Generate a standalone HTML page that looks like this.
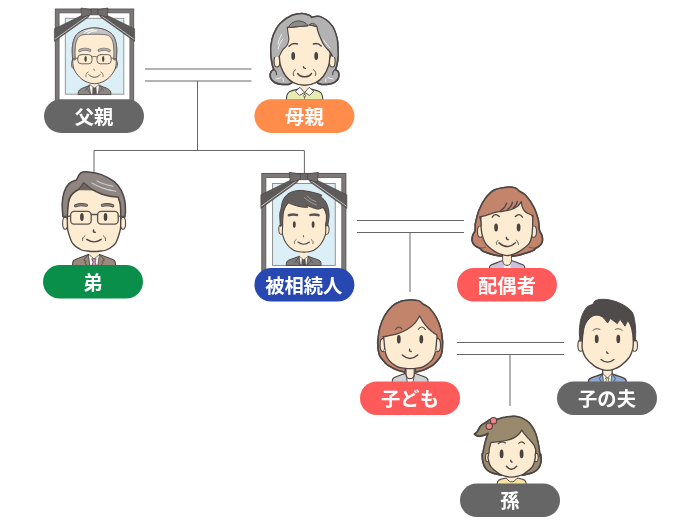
<!DOCTYPE html>
<html lang="ja">
<head>
<meta charset="utf-8">
<title>相続関係図</title>
<style>
html,body{margin:0;padding:0;background:#fff;}
body{width:700px;height:525px;overflow:hidden;position:relative;font-family:"Liberation Sans","Noto Sans CJK JP",sans-serif;}
svg{position:absolute;left:0;top:0;display:block;will-change:transform;}
.lbl{font-family:"Liberation Sans","Noto Sans CJK JP",sans-serif;font-weight:700;font-size:19.3px;fill:#fff;text-anchor:middle;}
</style>
</head>
<body>
<svg width="700" height="525" viewBox="0 0 700 525">
<!-- connector lines -->
<g id="lines" fill="none" stroke="#666" stroke-width="1">
  <path d="M145 69H251.5M145 81H251.5"/>
  <path d="M197.5 81V150.5"/>
  <path d="M94 172V150.5H304.4V174"/>
  <path d="M357 220.5H464M357 232.5H464"/>
  <path d="M410 232.5V292"/>
  <path d="M457 342.5H564M457 354.5H564"/>
  <path d="M510 354.5V406"/>
</g>
<!-- PERSONS -->
<defs>
  <linearGradient id="fhair" x1="0" y1="0" x2="0" y2="1"><stop offset="0" stop-color="#cbcbcb"/><stop offset="0.35" stop-color="#b4b4b4"/><stop offset="1" stop-color="#a6a6a6"/></linearGradient>
  <g id="frame">
    <!-- coordinates local to father frame -->
    <rect x="55.3" y="9" width="78.4" height="93" fill="#7d7979" stroke="#585454" stroke-width="0.9"/>
    <rect x="59.1" y="12.9" width="70.8" height="88" fill="#fff" stroke="#585454" stroke-width="0.7"/>
    <rect x="65.3" y="18.3" width="58.5" height="75.9" fill="#dceef6" stroke="#8d8d8d" stroke-width="0.9"/>
  </g>
  <g id="ribbon">
    <!-- left band -->
    <path d="M83 14.8 L54.4 28.8 L54.4 41.4 L88.6 17 L90 14 Z" fill="#5f5a5a" stroke="#4c4848" stroke-width="0.6" stroke-linejoin="round"/>
    <path d="M54.8 39.3 L87.6 15.9" stroke="#ececec" stroke-width="0.65" fill="none"/>
    <!-- right band -->
    <path d="M106 14.8 L134.6 28.8 L134.6 41.4 L100.4 17 L99 14 Z" fill="#5f5a5a" stroke="#4c4848" stroke-width="0.6" stroke-linejoin="round"/>
    <path d="M134.2 39.3 L101.4 15.9" stroke="#ececec" stroke-width="0.65" fill="none"/>
    <!-- bow -->
    <path d="M91.2 9.6 L81 8 L81.9 17.4 L91.2 14.6 Z" fill="#716c6c" stroke="#454141" stroke-width="0.7" stroke-linejoin="round"/>
    <path d="M97.8 9.6 L108 8 L107.1 17.4 L97.8 14.6 Z" fill="#716c6c" stroke="#454141" stroke-width="0.7" stroke-linejoin="round"/>
    <rect x="91.2" y="9" width="6.6" height="5.9" fill="#6e6969" stroke="#4c4848" stroke-width="0.6"/>
  </g>
</defs>
<g id="father">
  <use href="#frame"/>
  <g stroke="#5a5350" stroke-width="1" stroke-linejoin="round" stroke-linecap="round">
    <!-- suit -->
    <path d="M78 94.2 C78 90.5 80 89 84 87.6 L90.5 85 L98.5 85 L105 87.6 C109 89 111 90.5 111 94.2 Z" fill="#8b8787"/>
    <path d="M89.6 85 L99.4 85 L98.2 94.2 L90.8 94.2 Z" fill="#fff" stroke-width="0.6"/>
    <path d="M93 87 L96 87 L96.6 94.2 L92.4 94.2 Z" fill="#5c5757" stroke-width="0.5"/>
    <path d="M89.6 85 L87 88.4 L90.8 94.2 M99.4 85 L102 88.4 L98.2 94.2 M87 88.4 L85.4 90.6 M102 88.4 L103.6 90.6" fill="none" stroke-width="0.7"/>
    <!-- neck -->
    <path d="M90.3 80 L90.3 85 L94.5 88 L98.7 85 L98.7 80 Z" fill="#fdecd2" stroke="none"/>
    <path d="M90.3 85 L94.5 88 L98.7 85" fill="none" stroke-width="0.6"/>
    <!-- ears -->
    <ellipse cx="74" cy="64" rx="2.3" ry="4.8" fill="#fdecd2"/>
    <ellipse cx="115" cy="64" rx="2.3" ry="4.8" fill="#fdecd2"/>
    <!-- head -->
    <path d="M72.6 60C72.77 61.33 72.7 65.43 73.6 68C74.5 70.57 76.1 73.2 78 75.4C79.9 77.6 82.25 79.82 85 81.2C87.75 82.58 91.33 83.7 94.5 83.7C97.67 83.7 101.25 82.58 104 81.2C106.75 79.82 109.1 77.6 111 75.4C112.9 73.2 114.5 70.57 115.4 68C116.3 65.43 116.23 61.33 116.4 60C116.45 58 116.9 51.33 116.7 48C116.5 44.67 115.87 42.17 115.2 40C114.53 37.83 113.73 36.35 112.7 35C111.67 33.65 110.28 32.77 109 31.9C107.72 31.03 106.5 30.38 105 29.8C103.5 29.22 101.75 28.72 100 28.4C98.25 28.08 96.33 27.9 94.5 27.9C92.67 27.9 90.75 28.08 89 28.4C87.25 28.72 85.5 29.22 84 29.8C82.5 30.38 81.28 31.03 80 31.9C78.72 32.77 77.33 33.65 76.3 35C75.27 36.35 74.47 37.83 73.8 40C73.13 42.17 72.5 44.67 72.3 48C72.1 51.33 72.55 58 72.6 60Z" fill="#fdecd2"/>
    <!-- hair band -->
    <path d="M116.4 60C116.45 58 116.9 51.33 116.7 48C116.5 44.67 115.87 42.17 115.2 40C114.53 37.83 113.73 36.35 112.7 35C111.67 33.65 110.28 32.77 109 31.9C107.72 31.03 106.5 30.38 105 29.8C103.5 29.22 101.75 28.72 100 28.4C98.25 28.08 96.33 27.9 94.5 27.9C92.67 27.9 90.75 28.08 89 28.4C87.25 28.72 85.5 29.22 84 29.8C82.5 30.38 81.28 31.03 80 31.9C78.72 32.77 77.33 33.65 76.3 35C75.27 36.35 74.47 37.83 73.8 40C73.13 42.17 72.5 44.67 72.3 48C72.1 51.33 72.55 58 72.6 60C73.05 60 74.85 60 75.3 60C75.27 58.33 74.98 52.92 75.1 50C75.22 47.08 75.45 44.6 76 42.5C76.55 40.4 77.23 38.68 78.4 37.4C79.57 36.12 80.32 35.32 83 34.8C85.68 34.28 90.67 34.3 94.5 34.3C98.33 34.3 103.32 34.28 106 34.8C108.68 35.32 109.43 36.12 110.6 37.4C111.77 38.68 112.45 40.4 113 42.5C113.55 44.6 113.78 47.08 113.9 50C114.02 52.92 113.73 58.33 113.7 60C114.15 60 115.95 60 116.4 60Z" fill="url(#fhair)" stroke-width="0.8"/>
    <path d="M84.6 32.6 C87 30.4 90 29.6 93.4 29.4 M87.6 33.6 C90 31.6 93 30.8 96.6 30.6" fill="none" stroke="#f3f3f3" stroke-width="1.1"/>
    <!-- brows -->
    <path d="M79.8 50.7 C82 48.7 87 48.7 89.8 50.2" fill="none" stroke="#77706c" stroke-width="3"/><path d="M79.8 50.7 C82 48.7 87 48.7 89.8 50.2" fill="none" stroke="#adadad" stroke-width="1.6"/>
    <path d="M109.2 50.7 C107 48.7 102 48.7 99.2 50.2" fill="none" stroke="#77706c" stroke-width="3"/><path d="M109.2 50.7 C107 48.7 102 48.7 99.2 50.2" fill="none" stroke="#adadad" stroke-width="1.6"/>
    <!-- eyes -->
    <ellipse cx="85.6" cy="59" rx="1.2" ry="3" fill="#4a4340" stroke="none"/>
    <ellipse cx="103.2" cy="59" rx="1.2" ry="3" fill="#4a4340" stroke="none"/>
    <!-- glasses -->
    <g fill="none" stroke="#6d6661" stroke-width="1">
      <rect x="77.8" y="54.6" width="14.2" height="9.2" rx="3.4"/>
      <rect x="97" y="54.6" width="14.2" height="9.2" rx="3.4"/>
      <path d="M92 57 C93.5 56.2 95.5 56.2 97 57 M77.8 58 L73 58.6 M111.2 58 L116 58.6"/>
    </g>
    <!-- nose, mouth -->
    <path d="M93.8 69.2 L94.4 70.2" fill="none" stroke-width="0.9"/>
    <path d="M88.8 74.6 C91.5 78.2 97.5 78.2 100.2 74.6" fill="none" stroke-width="1"/>
    <path d="M88.2 72 C86 73 85.4 75 86 76.8 M100.8 72 C103 73 103.6 75 103 76.8" fill="none" stroke-width="0.7"/>
  </g>
  <use href="#ribbon"/>
</g>
<g id="mother">
<path d="M286.4 100 C286.4 93.5 288 91.6 293 90.4 L300 88.6 L309 88.6 L316 90.4 C321 91.6 322.8 93.5 322.8 100 Z" fill="#e7edb2" stroke="#4d4644" stroke-width="1.1" stroke-linejoin="round" stroke-linecap="round"/>
<path d="M300.4 82 L300.4 89 L304.6 92.5 L308.8 89 L308.8 82 Z" fill="#fdecd2" stroke="none" stroke-width="1.1" stroke-linejoin="round" stroke-linecap="round"/>
<path d="M300.2 87.6 L304.5 92.4 L299.6 95.4 L295.8 91.6 Z" fill="#fff" stroke="#4d4644" stroke-width="0.9" stroke-linejoin="round" stroke-linecap="round"/>
<path d="M309 87.6 L304.7 92.4 L309.6 95.4 L313.4 91.6 Z" fill="#fff" stroke="#4d4644" stroke-width="0.9" stroke-linejoin="round" stroke-linecap="round"/>
<circle cx="304.6" cy="95.6" r="1.1" fill="#fff" stroke="#4d4644" stroke-width="0.7"/>
<path d="M304.6 92.6 L304.6 94.4 M304.6 96.8 L304.6 100" fill="none" stroke="#4d4644" stroke-width="0.7" stroke-linejoin="round" stroke-linecap="round"/>
<path d="M311.6 17.4C313.07 17.27 317 15.23 320.4 16.6C323.8 17.97 329.22 21.97 332 25.6C334.78 29.23 336.1 34.33 337.1 38.4C338.1 42.47 337.83 46.88 338 50C338.17 53.12 338.25 54.72 338.1 57.1C337.95 59.48 337.53 62.23 337.1 64.3C336.67 66.37 335.77 68.63 335.5 69.5C335.92 69.82 337.43 70.55 338 71.4C338.57 72.25 338.87 73.4 338.9 74.6C338.93 75.8 338.92 77.32 338.2 78.6C337.48 79.88 336.28 81.37 334.6 82.3C332.92 83.23 330.25 83.85 328.1 84.2C325.95 84.55 323.38 84.57 321.7 84.4C320.02 84.23 318.62 83.4 318 83.2C315.73 81 308.82 70 304.4 70C299.98 70 293.65 81 291.5 83.2C290.97 83.4 289.9 84.2 288.3 84.4C286.7 84.6 284.17 84.72 281.9 84.4C279.63 84.08 276.55 83.47 274.7 82.5C272.85 81.53 271.55 79.97 270.8 78.6C270.05 77.23 270.1 75.5 270.2 74.3C270.3 73.1 270.82 72.22 271.4 71.4C271.98 70.58 273.32 69.73 273.7 69.4C273.45 68.55 272.63 66.35 272.2 64.3C271.77 62.25 271.32 60.13 271.1 57.1C270.88 54.07 270.5 49.85 270.9 46.1C271.3 42.35 271.88 38.45 273.5 34.6C275.12 30.75 277.5 26.22 280.6 23C283.7 19.78 288.47 16.9 292.1 15.3C295.73 13.7 299.5 13.38 302.4 13.4C305.3 13.42 307.97 14.73 309.5 15.4C311.03 16.07 311.25 17.07 311.6 17.4Z" fill="#b2b2b2" stroke="#4d4644" stroke-width="1.5" stroke-linejoin="round" stroke-linecap="round"/>
<ellipse cx="277" cy="61.2" rx="2.9" ry="5.8" fill="#fdecd2" stroke="#4d4644" stroke-width="1.1"/>
<ellipse cx="332.2" cy="61.2" rx="2.9" ry="5.8" fill="#fdecd2" stroke="#4d4644" stroke-width="1.1"/>
<path d="M279.3 50C278.53 54.5 279.18 54.38 279.4 57C279.62 59.62 279.55 62.53 280.6 65.7C281.65 68.87 283.57 73.18 285.7 76C287.83 78.82 290.25 81.07 293.4 82.6C296.55 84.13 300.87 85.2 304.6 85.2C308.33 85.2 312.65 84.13 315.8 82.6C318.95 81.07 321.37 78.82 323.5 76C325.63 73.18 327.55 68.87 328.6 65.7C329.65 62.53 329.58 59.62 329.8 57C330.02 54.38 330.7 54.5 329.9 50C329.1 45.5 329.22 34.33 325 30C320.78 25.67 311.43 24 304.6 24C297.77 24 288.22 25.67 284 30C279.78 34.33 280.07 45.5 279.3 50Z" fill="#fdecd2" stroke="#4d4644" stroke-width="1.35" stroke-linejoin="round" stroke-linecap="round"/>
<path d="M288.5 27.2 C292 19.5 303 18.6 308 25.4 Z" fill="#8b8b8b" stroke="#4d4644" stroke-width="0.9" stroke-linejoin="round" stroke-linecap="round"/>
<path d="M309.6 24.6 C311.5 22.6 315.2 22.8 316.6 26.2 Z" fill="#8b8b8b" stroke="#4d4644" stroke-width="0.9" stroke-linejoin="round" stroke-linecap="round"/>
<path d="M271.1 57.1C271.07 55.27 270.5 49.85 270.9 46.1C271.3 42.35 271.88 38.45 273.5 34.6C275.12 30.75 277.5 26.22 280.6 23C283.7 19.78 288.47 16.9 292.1 15.3C295.73 13.7 299.5 13.38 302.4 13.4C305.3 13.42 307.97 14.73 309.5 15.4C311.03 16.07 311.25 17.07 311.6 17.4C313.07 17.27 317 15.23 320.4 16.6C323.8 17.97 329.22 21.97 332 25.6C334.78 29.23 336.1 34.33 337.1 38.4C338.1 42.47 337.83 46.88 338 50C338.17 53.12 339.03 56.07 338.1 57.1C337.17 58.13 333.35 56.35 332.4 56.2C332 55.5 331.35 53.78 330 52C328.65 50.22 325.9 47.87 324.3 45.5C322.7 43.13 321.48 40.27 320.4 37.8C319.32 35.33 318.4 32.6 317.8 30.7C317.2 28.8 316.97 27.12 316.8 26.4C315.57 26.13 310.63 25.07 309.4 24.8C309.17 24.9 308.23 25.3 308 25.4C304.73 25.72 291.67 26.98 288.4 27.3C288.22 27.32 287.48 27.38 287.3 27.4C287.43 28.45 287.85 31.65 288.1 33.7C288.35 35.75 289 37.73 288.8 39.7C288.6 41.67 287.93 43.78 286.9 45.5C285.87 47.22 283.87 48.18 282.6 50C281.33 51.82 279.85 55.33 279.3 56.4C277.93 56.52 272.47 56.98 271.1 57.1Z" fill="#b2b2b2" stroke="none" stroke-width="1.1" stroke-linejoin="round" stroke-linecap="round"/>
<path d="M332.4 56.2C332 55.5 331.35 53.78 330 52C328.65 50.22 325.9 47.87 324.3 45.5C322.7 43.13 321.48 40.27 320.4 37.8C319.32 35.33 318.4 32.6 317.8 30.7C317.2 28.8 316.97 27.12 316.8 26.4" fill="none" stroke="#4d4644" stroke-width="1.25" stroke-linejoin="round" stroke-linecap="round"/>
<path d="M316.8 26.4C315.57 26.13 310.63 25.07 309.4 24.8" fill="none" stroke="#4d4644" stroke-width="1.0" stroke-linejoin="round" stroke-linecap="round"/>
<path d="M308 25.4C304.73 25.72 291.67 26.98 288.4 27.3C288.22 27.32 287.48 27.38 287.3 27.4C287.43 28.45 287.85 31.65 288.1 33.7C288.35 35.75 289 37.73 288.8 39.7C288.6 41.67 287.93 43.78 286.9 45.5C285.87 47.22 283.87 48.18 282.6 50C281.33 51.82 279.85 55.33 279.3 56.4" fill="none" stroke="#4d4644" stroke-width="1.1" stroke-linejoin="round" stroke-linecap="round"/>
<path d="M291.5 83.2C290.97 83.4 289.9 84.2 288.3 84.4C286.7 84.6 284.17 84.72 281.9 84.4C279.63 84.08 276.55 83.47 274.7 82.5C272.85 81.53 271.55 79.97 270.8 78.6C270.05 77.23 270.1 75.5 270.2 74.3C270.3 73.1 270.82 72.22 271.4 71.4C271.98 70.58 273.32 69.73 273.7 69.4C273.45 68.55 272.63 66.35 272.2 64.3C271.77 62.25 271.32 60.13 271.1 57.1C270.88 54.07 270.5 49.85 270.9 46.1C271.3 42.35 271.88 38.45 273.5 34.6C275.12 30.75 277.5 26.22 280.6 23C283.7 19.78 288.47 16.9 292.1 15.3C295.73 13.7 299.5 13.38 302.4 13.4C305.3 13.42 307.97 14.73 309.5 15.4C311.03 16.07 311.25 17.07 311.6 17.4C313.07 17.27 317 15.23 320.4 16.6C323.8 17.97 329.22 21.97 332 25.6C334.78 29.23 336.1 34.33 337.1 38.4C338.1 42.47 337.83 46.88 338 50C338.17 53.12 338.25 54.72 338.1 57.1C337.95 59.48 337.53 62.23 337.1 64.3C336.67 66.37 335.77 68.63 335.5 69.5C335.92 69.82 337.43 70.55 338 71.4C338.57 72.25 338.87 73.4 338.9 74.6C338.93 75.8 338.92 77.32 338.2 78.6C337.48 79.88 336.28 81.37 334.6 82.3C332.92 83.23 330.25 83.85 328.1 84.2C325.95 84.55 323.38 84.57 321.7 84.4C320.02 84.23 318.62 83.4 318 83.2" fill="none" stroke="#4d4644" stroke-width="1.5" stroke-linejoin="round" stroke-linecap="round"/>
<path d="M288.5 27.2 C292 19.5 303 18.6 308 25.4 Z" fill="#8b8b8b" stroke="#4d4644" stroke-width="0.9" stroke-linejoin="round" stroke-linecap="round"/>
<path d="M309.6 24.6 C311.5 22.6 315.2 22.8 316.6 26.2 Z" fill="#8b8b8b" stroke="#4d4644" stroke-width="0.9" stroke-linejoin="round" stroke-linecap="round"/>
<path d="M273.7 69.4 C275.6 70.4 276.8 72 276.4 74.6 M335.5 69.5 C333.6 70.5 332.4 72.1 332.8 74.7" fill="none" stroke="#4d4644" stroke-width="1.1" stroke-linejoin="round" stroke-linecap="round"/>
<path d="M281.6 34.4 C279.6 38 278.6 41 278 44 M282.8 39 C280.4 42.4 279 45.4 278 49" fill="none" stroke="#f2f2f2" stroke-width="1.0" stroke-linejoin="round" stroke-linecap="round"/>
<path d="M323.6 40 C325.6 43.4 327.6 45.6 330 48" fill="none" stroke="#f2f2f2" stroke-width="1.0" stroke-linejoin="round" stroke-linecap="round"/>
<path d="M276 79 C278 78.8 280 78 281.2 77.4 M283 78.6 C283.6 79.8 283.6 80.6 283.2 81.6" fill="none" stroke="#f2f2f2" stroke-width="1.0" stroke-linejoin="round" stroke-linecap="round"/>
<path d="M333 79 C331 78.8 329 78 327.8 77.4 M326 78.6 C325.4 79.8 325.4 80.6 325.8 81.6" fill="none" stroke="#f2f2f2" stroke-width="1.0" stroke-linejoin="round" stroke-linecap="round"/>
<path d="M289 46.2 C291.6 43.4 294.6 43 297.4 44" fill="none" stroke="#4d4644" stroke-width="1.4" stroke-linejoin="round" stroke-linecap="round"/>
<path d="M313.4 44 C316.4 43 319 43.6 321.2 46" fill="none" stroke="#4d4644" stroke-width="1.4" stroke-linejoin="round" stroke-linecap="round"/>
<ellipse cx="293.2" cy="56" rx="1.9" ry="4" fill="#4a4340"/>
<ellipse cx="316.2" cy="56" rx="1.9" ry="4" fill="#4a4340"/>
<path d="M303.4 66.6 C303.6 67.8 304.4 68.4 305.4 68.4" fill="none" stroke="#4d4644" stroke-width="1.4" stroke-linejoin="round" stroke-linecap="round"/>
<path d="M297.6 73.5 C300.6 77.9 308.6 77.9 311.6 73.5" fill="none" stroke="#4d4644" stroke-width="1.4" stroke-linejoin="round" stroke-linecap="round"/>
<path d="M295.6 69.6 C293.4 71 292.6 73.4 293.6 75.6" fill="none" stroke="#4d4644" stroke-width="0.9" stroke-linejoin="round" stroke-linecap="round"/>
<path d="M313.4 69.6 C315.6 71 316.4 73.4 315.4 75.6" fill="none" stroke="#4d4644" stroke-width="0.9" stroke-linejoin="round" stroke-linecap="round"/>
</g>
<g id="brother">
<path d="M72.5 265.43C72.71 264.61 72.07 262 73.79 260.54C75.5 259.09 80.32 257.69 82.79 256.69C85.25 255.68 87.61 254.86 88.57 254.5C90.39 254.5 97.68 254.5 99.5 254.5C100.46 254.86 102.82 255.68 105.29 256.69C107.75 257.69 112.57 259.09 114.29 260.54C116 262 115.36 264.61 115.57 265.43Z" fill="#9b8a7c" stroke="#4d4644" stroke-width="1.1" stroke-linejoin="round" stroke-linecap="round"/>
<path d="M88.57 254.5C90.39 254.5 97.68 254.5 99.5 254.5C99.22 256.32 98.11 263.61 97.83 265.43C96.56 265.43 91.51 265.43 90.24 265.43Z" fill="#fff" stroke="#4d4644" stroke-width="0.8" stroke-linejoin="round" stroke-linecap="round"/>
<path d="M92.17 258.74C92.81 258.74 95.39 258.74 96.03 258.74C95.9 259.32 95.39 261.64 95.26 262.21C95.43 262.75 96.11 264.89 96.29 265.43C95.56 265.43 92.64 265.43 91.91 265.43C92.09 264.89 92.77 262.75 92.94 262.21Z" fill="#d58fc0" stroke="#4d4644" stroke-width="0.8" stroke-linejoin="round" stroke-linecap="round"/>
<path d="M88.57 254.5C87.76 255.42 84.5 259.11 83.69 260.03C84.11 260.29 85.83 261.31 86.26 261.57C86 261.83 84.97 262.86 84.71 263.11C85.14 263.5 86.86 265.04 87.29 265.43" fill="none" stroke="#4d4644" stroke-width="0.9" stroke-linejoin="round" stroke-linecap="round"/>
<path d="M99.5 254.5C100.31 255.42 103.57 259.11 104.39 260.03C103.96 260.29 102.24 261.31 101.81 261.57C102.07 261.83 103.1 262.86 103.36 263.11C102.93 263.5 101.21 265.04 100.79 265.43" fill="none" stroke="#4d4644" stroke-width="0.9" stroke-linejoin="round" stroke-linecap="round"/>
<path d="M89.21 248.71C89.21 249.74 89.21 253.86 89.21 254.89C90.03 255.57 93.29 258.31 94.1 259C94.91 258.31 98.17 255.57 98.99 254.89C98.99 253.86 98.99 249.74 98.99 248.71Z" fill="#fdecd2" stroke="none" stroke-width="1.1" stroke-linejoin="round" stroke-linecap="round"/>
<path d="M88.96 254.63C89.81 255.36 93.24 258.27 94.1 259C94.96 258.27 98.39 255.36 99.24 254.63" fill="none" stroke="#4d4644" stroke-width="0.8" stroke-linejoin="round" stroke-linecap="round"/>
<ellipse cx="65.2" cy="223.3" rx="2.6" ry="6" fill="#fdecd2" stroke="#4d4644" stroke-width="1.1"/>
<ellipse cx="123.0" cy="223.3" rx="2.6" ry="6" fill="#fdecd2" stroke="#4d4644" stroke-width="1.1"/>
<path d="M67.36 216.43C67.46 214.29 66.61 208.29 68 203.57C69.39 198.86 71.36 191.79 75.71 188.14C80.06 184.5 87.89 181.71 94.1 181.71C100.31 181.71 108.61 184.5 113 188.14C117.39 191.79 119.17 198.86 120.46 203.57C121.74 208.29 120.67 214.29 120.71 216.43C120.69 218.17 120.76 224.24 120.59 226.86C120.41 229.47 120.54 229.39 119.69 232.13C118.83 234.87 117.59 240.38 115.44 243.31C113.3 246.25 109.31 248.46 106.83 249.74C104.34 251.03 102.65 250.73 100.53 251.03C98.41 251.33 96.24 251.54 94.1 251.54C91.96 251.54 89.84 251.33 87.67 251.03C85.51 250.73 83.62 251.03 81.11 249.74C78.61 248.46 74.77 246.25 72.63 243.31C70.49 240.38 69.11 234.87 68.26 232.13C67.4 229.39 67.64 229.47 67.49 226.86C67.34 224.24 67.38 218.17 67.36 216.43Z" fill="#fdecd2" stroke="#4d4644" stroke-width="1.35" stroke-linejoin="round" stroke-linecap="round"/>
<path d="M62.86 216.43C62.75 214.29 62 207.64 62.21 203.57C62.43 199.5 62.96 195.36 64.14 192C65.32 188.64 67.25 185.38 69.29 183.39C71.32 181.39 75.18 180.6 76.36 180.04C77.11 178.86 78.82 174.32 80.86 172.97C82.89 171.62 85.14 171.66 88.57 171.94C92 172.22 97.14 173.01 101.43 174.64C105.71 176.27 110.96 179.04 114.29 181.71C117.61 184.39 119.6 187.5 121.36 190.71C123.11 193.93 124.14 197.57 124.83 201C125.51 204.43 125.45 208.71 125.47 211.29C125.49 213.86 125.04 215.57 124.96 216.43C124.25 216.43 121.42 216.43 120.71 216.43C120.71 215.57 120.82 213.43 120.71 211.29C120.61 209.14 120.5 205.93 120.07 203.57C119.64 201.21 118.46 198.21 118.14 197.14C117.07 197.04 114.5 197.04 111.71 196.5C108.93 195.96 104.86 195.21 101.43 193.93C98 192.64 94.1 190.61 91.14 188.79C88.19 186.96 84.93 183.96 83.69 183C83 183.96 80.26 187.82 79.57 188.79C78.61 189.43 75.5 191.04 73.79 192.64C72.07 194.25 70.25 195.96 69.29 198.43C68.32 200.89 68.32 204.43 68 207.43C67.68 210.43 67.46 214.93 67.36 216.43C66.61 216.43 63.61 216.43 62.86 216.43Z" fill="#8f8681" stroke="#4d4644" stroke-width="1.5" stroke-linejoin="round" stroke-linecap="round"/>
<path d="M78.8 189.43C79.61 188.34 82.87 183.96 83.69 182.87C85.06 184.01 90.54 188.55 91.91 189.69Z" fill="#6e6560" stroke="#4d4644" stroke-width="0.8" stroke-linejoin="round" stroke-linecap="round"/>
<path d="M96.93 181.07C98.32 181.61 102.61 183.43 105.29 184.29C107.96 185.14 111.71 185.89 113 186.21" fill="none" stroke="#c8cad0" stroke-width="1.1" stroke-linejoin="round" stroke-linecap="round"/>
<path d="M91.79 183C93.61 183.86 98.75 186.75 102.71 188.14C106.68 189.54 113.43 190.82 115.57 191.36" fill="none" stroke="#c8cad0" stroke-width="1.1" stroke-linejoin="round" stroke-linecap="round"/>
<path d="M75.59 205.76Q80.73 203.96 86.39 205.24" fill="none" stroke="#4d4644" stroke-width="3.2" stroke-linejoin="round" stroke-linecap="round"/>
<path d="M75.59 205.76Q80.73 203.96 86.39 205.24" fill="none" stroke="#8f8681" stroke-width="1.5" stroke-linejoin="round" stroke-linecap="round"/>
<path d="M102.33 205.24Q108.18 203.96 112.74 205.76" fill="none" stroke="#4d4644" stroke-width="3.2" stroke-linejoin="round" stroke-linecap="round"/>
<path d="M102.33 205.24Q108.18 203.96 112.74 205.76" fill="none" stroke="#8f8681" stroke-width="1.5" stroke-linejoin="round" stroke-linecap="round"/>
<ellipse cx="81.9" cy="217.1" rx="1.8" ry="4" fill="#4a4340"/>
<ellipse cx="105.5" cy="217.1" rx="1.8" ry="4" fill="#4a4340"/>
<g fill="none" stroke="#5a524f" stroke-width="1.3" stroke-linecap="round">
<rect x="70.6" y="211.3" width="20.6" height="12.9" rx="3.6"/>
<rect x="97.6" y="211.3" width="20.6" height="12.9" rx="3.6"/>
<path d="M91.14 214.5C92.21 214.5 96.5 214.5 97.57 214.5M70.57 215.79C69.39 216.11 64.68 217.39 63.5 217.71M118.14 215.79C119.26 216.11 123.71 217.39 124.83 217.71"/>
</g>
<path d="M93.59 229.94C93.56 230.24 93.18 231.34 93.46 231.74C93.74 232.15 94.96 232.28 95.26 232.39" fill="none" stroke="#4d4644" stroke-width="1.4" stroke-linejoin="round" stroke-linecap="round"/>
<path d="M86.77 239.33Q94.23 244.47 101.17 239.33" fill="none" stroke="#4d4644" stroke-width="1.4" stroke-linejoin="round" stroke-linecap="round"/>
<path d="M84.97 235.86C84.61 236.2 83.17 237.14 82.79 237.91C82.4 238.69 82.68 240.06 82.66 240.49" fill="none" stroke="#4d4644" stroke-width="0.9" stroke-linejoin="round" stroke-linecap="round"/>
<path d="M103.36 235.86C103.68 236.2 104.92 237.14 105.29 237.91C105.65 238.69 105.5 240.06 105.54 240.49" fill="none" stroke="#4d4644" stroke-width="0.9" stroke-linejoin="round" stroke-linecap="round"/>
</g>
<g id="deceased">
<use href="#frame" transform="translate(202.55 163.71) scale(1.072 1.08)"/>
<path d="M286.29 265.06C286.48 264.37 286.04 262.12 287.43 260.94C288.82 259.76 292.63 258.73 294.63 257.97C296.63 257.21 298.63 256.64 299.43 256.37C300.86 256.37 306.57 256.37 308 256.37C308.8 256.64 310.8 257.21 312.8 257.97C314.8 258.73 318.61 259.76 320 260.94C321.39 262.12 320.95 264.37 321.14 265.06Z" fill="#7f7c7c" stroke="#4d4644" stroke-width="1.0" stroke-linejoin="round" stroke-linecap="round"/>
<path d="M299.43 256.37C300.86 256.37 306.57 256.37 308 256.37C307.81 257.82 307.05 263.61 306.86 265.06C305.81 265.06 301.62 265.06 300.57 265.06Z" fill="#fff" stroke="#4d4644" stroke-width="0.7" stroke-linejoin="round" stroke-linecap="round"/>
<path d="M302.29 259C302.76 259 304.67 259 305.14 259C305.26 260.01 305.71 264.05 305.83 265.06C305.12 265.06 302.3 265.06 301.6 265.06Z" fill="#5c5757" stroke="#4d4644" stroke-width="0.5" stroke-linejoin="round" stroke-linecap="round"/>
<path d="M299.43 256.37C298.91 257.06 296.86 259.8 296.34 260.49C297.01 261.25 299.68 264.3 300.34 265.06" fill="none" stroke="#4d4644" stroke-width="0.7" stroke-linejoin="round" stroke-linecap="round"/>
<path d="M308 256.37C308.51 257.06 310.57 259.8 311.09 260.49C310.42 261.25 307.75 264.3 307.09 265.06" fill="none" stroke="#4d4644" stroke-width="0.7" stroke-linejoin="round" stroke-linecap="round"/>
<path d="M296.34 260.49C296.06 260.87 294.91 262.39 294.63 262.77" fill="none" stroke="#4d4644" stroke-width="0.7" stroke-linejoin="round" stroke-linecap="round"/>
<path d="M311.09 260.49C311.37 260.87 312.51 262.39 312.8 262.77" fill="none" stroke="#4d4644" stroke-width="0.7" stroke-linejoin="round" stroke-linecap="round"/>
<path d="M299.66 249.29C299.66 250.5 299.66 255.38 299.66 256.6C300.32 257.13 302.99 259.27 303.66 259.8C304.34 259.27 307.09 257.13 307.77 256.6C307.77 255.38 307.77 250.5 307.77 249.29Z" fill="#fdecd2" stroke="none" stroke-width="1.1" stroke-linejoin="round" stroke-linecap="round"/>
<path d="M299.43 256.37C300.13 256.94 302.95 259.23 303.66 259.8C304.38 259.23 307.28 256.94 308 256.37" fill="none" stroke="#4d4644" stroke-width="0.6" stroke-linejoin="round" stroke-linecap="round"/>
<ellipse cx="281.1" cy="229.4" rx="2.3" ry="5" fill="#fdecd2" stroke="#4d4644" stroke-width="1"/>
<ellipse cx="326.7" cy="229.4" rx="2.3" ry="5" fill="#fdecd2" stroke="#4d4644" stroke-width="1"/>
<path d="M282.63 225.71C282.57 223.81 281.2 218.29 282.29 214.29C283.37 210.29 285.58 204.57 289.14 201.71C292.7 198.86 298.8 197.14 303.66 197.14C308.51 197.14 314.5 198.86 318.29 201.71C322.08 204.57 325.16 210.29 326.4 214.29C327.64 218.29 325.83 223.81 325.71 225.71C325.66 227.24 326.21 231.8 325.37 234.89C324.53 237.98 322.61 241.69 320.69 244.26C318.76 246.83 315.79 249.08 313.83 250.31C311.87 251.55 310.55 251.38 308.91 251.69C307.28 251.99 305.64 252.14 304 252.14C302.36 252.14 300.8 251.99 299.09 251.69C297.37 251.38 295.75 251.55 293.71 250.31C291.68 249.08 288.7 246.83 286.86 244.26C285.01 241.69 283.33 237.98 282.63 234.89C281.92 231.8 282.63 227.24 282.63 225.71Z" fill="#fdecd2" stroke="#4d4644" stroke-width="1.1" stroke-linejoin="round" stroke-linecap="round"/>
<path d="M280.34 225.94C280.25 224 279.69 217.01 279.77 214.29C279.86 211.56 280.32 211.9 280.86 209.57C281.4 207.24 281.83 202.88 283 200.29C284.17 197.69 285.98 195.52 287.86 194C289.74 192.48 292.02 191.74 294.29 191.14C296.55 190.55 298.81 190.33 301.43 190.43C304.05 190.52 307.14 191.14 310 191.71C312.86 192.29 316.58 193.26 318.57 193.86C320.56 194.45 321.37 195.05 321.93 195.29C321.75 195.52 321.04 196.48 320.86 196.71C321.57 197.43 323.95 199.21 325.14 201C326.33 202.79 327.35 204.93 328 207.43C328.65 209.93 329.13 212.91 329.07 216C329.01 219.09 327.89 224.29 327.66 225.94C327.33 225.9 326.04 225.75 325.71 225.71C325.83 224.21 326.45 219.17 326.43 216.71C326.4 214.26 326.02 212.55 325.57 211C325.12 209.45 324.02 208.02 323.71 207.43C322.92 207.69 319.73 208.74 318.93 209C318.63 209 318.39 209.29 317.14 209C315.89 208.71 313.15 207.93 311.43 207.29C309.7 206.64 307.56 205.5 306.79 205.14C306.93 205.52 307.5 207.05 307.64 207.43C306.61 207.36 303.65 207.38 301.43 207C299.2 206.62 296.49 205.85 294.29 205.14C292.08 204.44 289.23 203.18 288.21 202.79C287.74 203.44 286.13 205.23 285.36 206.71C284.58 208.2 283.99 209.81 283.57 211.71C283.15 213.62 283.01 215.81 282.86 218.14C282.7 220.48 282.67 224.45 282.63 225.71C282.25 225.75 280.72 225.9 280.34 225.94Z" fill="#625f5e" stroke="#4d4644" stroke-width="1.0" stroke-linejoin="round" stroke-linecap="round"/>
<path d="M304.29 197.43C305.24 198.17 307.98 200.61 310 201.86C312.02 203.11 315.36 204.42 316.43 204.93" fill="none" stroke="#b9b7b6" stroke-width="0.7" stroke-linejoin="round" stroke-linecap="round"/>
<path d="M307.14 196C307.86 196.6 310 198.65 311.43 199.57C312.86 200.49 315 201.18 315.71 201.5" fill="none" stroke="#b9b7b6" stroke-width="0.7" stroke-linejoin="round" stroke-linecap="round"/>
<path d="M288.8 215.2C289.47 215.09 291.41 214.55 292.8 214.51C294.19 214.48 296.42 214.9 297.14 214.97" fill="none" stroke="#595554" stroke-width="2.4" stroke-linejoin="round" stroke-linecap="round"/>
<path d="M310.29 214.97C311.01 214.9 313.24 214.48 314.63 214.51C316.02 214.55 317.96 215.09 318.63 215.2" fill="none" stroke="#595554" stroke-width="2.4" stroke-linejoin="round" stroke-linecap="round"/>
<ellipse cx="294.3" cy="224.6" rx="1.4" ry="3.3" fill="#4a4340"/>
<ellipse cx="313.1" cy="224.6" rx="1.4" ry="3.3" fill="#4a4340"/>
<path d="M303.43 235.57C303.47 235.8 303.62 236.71 303.66 236.94" fill="none" stroke="#4d4644" stroke-width="0.9" stroke-linejoin="round" stroke-linecap="round"/>
<path d="M297.94 241.97Q303.6 246.54 309.49 241.97" fill="none" stroke="#4d4644" stroke-width="1.1" stroke-linejoin="round" stroke-linecap="round"/>
<path d="M296.23 239.57C295.92 239.9 294.67 240.85 294.4 241.51C294.13 242.18 294.59 243.23 294.63 243.57" fill="none" stroke="#4d4644" stroke-width="0.8" stroke-linejoin="round" stroke-linecap="round"/>
<path d="M311.2 239.57C311.5 239.9 312.76 240.85 313.03 241.51C313.3 242.18 312.84 243.23 312.8 243.57" fill="none" stroke="#4d4644" stroke-width="0.8" stroke-linejoin="round" stroke-linecap="round"/>
<use href="#ribbon" transform="translate(202.55 163.71) scale(1.072 1.08)"/>
</g>
<g id="spouse">
<path d="M489.64 269C489.79 268.4 488.94 266.6 490.54 265.4C492.15 264.2 497.27 262.61 499.29 261.8C501.3 260.99 502.07 260.73 502.63 260.51C504.11 260.51 510.02 260.51 511.5 260.51C512.08 260.73 512.94 260.99 514.97 261.8C517.01 262.61 522.09 264.2 523.71 265.4C525.34 266.6 524.57 268.4 524.74 269Z" fill="#cbc1da" stroke="#4d4644" stroke-width="1.1" stroke-linejoin="round" stroke-linecap="round"/>
<path d="M503.79 263.86C504.92 263.86 509.46 263.86 510.6 263.86C510.56 264.71 510.39 268.14 510.34 269C509.29 269 505.09 269 504.04 269Z" fill="#fff" stroke="none" stroke-width="1.1" stroke-linejoin="round" stroke-linecap="round"/>
<path d="M502.63 252.93C502.63 254.24 502.63 259.46 502.63 260.77C502.89 261.39 503.44 263.73 504.17 264.5C504.9 265.27 506.04 265.4 507 265.4C507.96 265.4 509.21 265.27 509.96 264.5C510.71 263.73 511.24 261.39 511.5 260.77C511.5 259.46 511.5 254.24 511.5 252.93Z" fill="#fdecd2" stroke="none" stroke-width="1.1" stroke-linejoin="round" stroke-linecap="round"/>
<path d="M502.63 256.14C502.63 256.91 502.63 260 502.63 260.77C502.89 261.39 503.44 263.73 504.17 264.5C504.9 265.27 506.04 265.4 507 265.4C507.96 265.4 509.21 265.27 509.96 264.5C510.71 263.73 511.24 261.39 511.5 260.77C511.5 260 511.5 256.91 511.5 256.14" fill="none" stroke="#4d4644" stroke-width="1.0" stroke-linejoin="round" stroke-linecap="round"/>
<path d="M518.96 190.99C520.18 191.82 523.78 193.24 526.29 196C528.79 198.76 532.03 203.71 534 207.57C535.97 211.43 537.29 216.24 538.11 219.14C538.94 222.05 538.67 223.07 538.93 225C539.18 226.93 539.17 229.05 539.64 230.71C540.12 232.38 541.3 233.45 541.79 235C542.27 236.55 542.63 238.55 542.57 240C542.51 241.45 542.04 242.64 541.43 243.71C540.82 244.79 539.9 245.67 538.93 246.43C537.95 247.19 536.13 247.98 535.57 248.29C535.24 248.64 534.76 249.76 533.57 250.43C532.38 251.1 530.71 251.52 528.43 252.29C526.14 253.05 522.57 254.33 519.86 255C517.14 255.67 513.43 256.07 512.14 256.29C511.29 254.55 508.71 245.86 507 245.86C505.29 245.86 502.71 254.55 501.86 256.29C500.57 256.07 496.86 255.67 494.14 255C491.43 254.33 487.52 252.99 485.57 252.29C483.62 251.58 483.4 251.45 482.43 250.79C481.45 250.12 480.17 248.7 479.71 248.29C479.1 247.98 477.1 247.19 476 246.43C474.9 245.67 473.81 244.85 473.14 243.71C472.48 242.58 472.06 241.1 472 239.64C471.94 238.19 472.3 236.49 472.79 235C473.27 233.51 474.51 232.38 474.93 230.71C475.35 229.05 475.19 226.29 475.29 225C475.38 223.71 474.89 225.43 475.5 223C476.11 220.57 477.28 214.56 478.97 210.4C480.66 206.24 483.09 201.46 485.66 198.06C488.23 194.65 490.84 191.78 494.4 189.96C497.96 188.14 503.51 187.45 507 187.13C510.49 186.81 513.36 187.39 515.36 188.03C517.35 188.67 518.36 190.49 518.96 190.99Z" fill="#c3846c" stroke="#4d4644" stroke-width="1.5" stroke-linejoin="round" stroke-linecap="round"/>
<ellipse cx="480.4" cy="231.5" rx="2.9" ry="5.8" fill="#fdecd2" stroke="#4d4644" stroke-width="1.1"/>
<ellipse cx="533.6" cy="231.5" rx="2.9" ry="5.8" fill="#fdecd2" stroke="#4d4644" stroke-width="1.1"/>
<path d="M481.29 229.43C481.29 227.29 479.79 220.86 481.29 216.57C482.79 212.29 486 206.71 490.29 203.71C494.57 200.71 501.43 198.57 507 198.57C512.57 198.57 519.47 200.71 523.71 203.71C527.96 206.71 531 212.29 532.46 216.57C533.91 220.86 532.46 227.29 532.46 229.43C532.37 230.35 532.48 232.6 531.94 234.93C531.41 237.26 531.26 240.71 529.24 243.41C527.23 246.11 522.49 249.33 519.86 251.13C517.22 252.93 515.57 253.46 513.43 254.21C511.29 254.96 509.14 255.63 507 255.63C504.86 255.63 502.71 254.96 500.57 254.21C498.43 253.46 496.65 252.93 494.14 251.13C491.64 249.33 487.52 246.11 485.53 243.41C483.54 240.71 482.89 237.26 482.19 234.93C481.48 232.6 481.44 230.35 481.29 229.43Z" fill="#fdecd2" stroke="#4d4644" stroke-width="1.35" stroke-linejoin="round" stroke-linecap="round"/>
<path d="M474.86 225.83C474.96 225.36 474.81 225.57 475.5 223C476.19 220.43 477.28 214.56 478.97 210.4C480.66 206.24 483.09 201.46 485.66 198.06C488.23 194.65 490.84 191.78 494.4 189.96C497.96 188.14 503.51 187.45 507 187.13C510.49 186.81 513.36 187.39 515.36 188.03C517.35 188.67 518.36 190.49 518.96 190.99C520.18 191.82 523.78 193.24 526.29 196C528.79 198.76 531.96 203.5 534 207.57C536.04 211.64 537.62 217.39 538.5 220.43C539.38 223.47 539.14 224.93 539.27 225.83C539.27 225.83 539.27 225.83 539.27 225.83C538.16 225.83 533.7 225.83 532.59 225.83C532.61 224.93 532.65 222.12 532.71 220.43C532.78 218.74 532.93 216.46 532.97 215.67C532.71 215.56 532.61 215.61 531.43 215.03C530.25 214.45 527.4 213.46 525.9 212.2C524.4 210.94 523.18 209.2 522.43 207.44C521.68 205.69 521.57 202.62 521.4 201.66C520.86 202.32 519.88 204.34 518.19 205.64C516.49 206.95 513.81 208.56 511.24 209.5C508.67 210.44 505.46 210.81 502.76 211.3C500.06 211.79 497.91 211.75 495.04 212.46C492.17 213.16 488.1 214.79 485.53 215.54C482.96 216.29 480.6 216.72 479.61 216.96C479.81 217.54 480.51 218.95 480.77 220.43C481.03 221.91 481.09 224.93 481.16 225.83C480.11 225.83 475.91 225.83 474.86 225.83C474.86 225.83 474.86 225.83 474.86 225.83Z" fill="#c3846c" stroke="none" stroke-width="1.1" stroke-linejoin="round" stroke-linecap="round"/>
<path d="M532.59 225.83C532.61 224.93 532.65 222.12 532.71 220.43C532.78 218.74 532.93 216.46 532.97 215.67C532.71 215.56 532.61 215.61 531.43 215.03C530.25 214.45 527.4 213.46 525.9 212.2C524.4 210.94 523.18 209.2 522.43 207.44C521.68 205.69 521.57 202.62 521.4 201.66C520.86 202.32 519.88 204.34 518.19 205.64C516.49 206.95 513.81 208.56 511.24 209.5C508.67 210.44 505.46 210.81 502.76 211.3C500.06 211.79 497.91 211.75 495.04 212.46C492.17 213.16 488.1 214.79 485.53 215.54C482.96 216.29 480.6 216.72 479.61 216.96C479.81 217.54 480.51 218.95 480.77 220.43C481.03 221.91 481.09 224.93 481.16 225.83" fill="none" stroke="#4d4644" stroke-width="1.25" stroke-linejoin="round" stroke-linecap="round"/>
<path d="M500.57 210.66C501.21 210.12 503.42 208.69 504.43 207.44C505.44 206.2 506.25 203.91 506.61 203.2" fill="none" stroke="#4d4644" stroke-width="1.3" stroke-linejoin="round" stroke-linecap="round"/>
<path d="M507.39 209.89C507.96 209.26 510 207.42 510.86 206.16C511.71 204.89 512.25 202.94 512.53 202.3" fill="none" stroke="#4d4644" stroke-width="1.3" stroke-linejoin="round" stroke-linecap="round"/>
<path d="M513.04 208.09C513.54 207.55 515.29 205.99 516 204.87C516.71 203.76 517.07 201.98 517.29 201.4" fill="none" stroke="#4d4644" stroke-width="1.3" stroke-linejoin="round" stroke-linecap="round"/>
<path d="M501.86 256.29C500.57 256.07 496.86 255.67 494.14 255C491.43 254.33 487.52 252.99 485.57 252.29C483.62 251.58 483.4 251.45 482.43 250.79C481.45 250.12 480.17 248.7 479.71 248.29C479.1 247.98 477.1 247.19 476 246.43C474.9 245.67 473.81 244.85 473.14 243.71C472.48 242.58 472.06 241.1 472 239.64C471.94 238.19 472.3 236.49 472.79 235C473.27 233.51 474.51 232.38 474.93 230.71C475.35 229.05 475.19 226.29 475.29 225C475.38 223.71 474.89 225.43 475.5 223C476.11 220.57 477.28 214.56 478.97 210.4C480.66 206.24 483.09 201.46 485.66 198.06C488.23 194.65 490.84 191.78 494.4 189.96C497.96 188.14 503.51 187.45 507 187.13C510.49 186.81 513.36 187.39 515.36 188.03C517.35 188.67 518.36 190.49 518.96 190.99C520.18 191.82 523.78 193.24 526.29 196C528.79 198.76 532.03 203.71 534 207.57C535.97 211.43 537.29 216.24 538.11 219.14C538.94 222.05 538.67 223.07 538.93 225C539.18 226.93 539.17 229.05 539.64 230.71C540.12 232.38 541.3 233.45 541.79 235C542.27 236.55 542.63 238.55 542.57 240C542.51 241.45 542.04 242.64 541.43 243.71C540.82 244.79 539.9 245.67 538.93 246.43C537.95 247.19 536.13 247.98 535.57 248.29C535.24 248.64 534.76 249.76 533.57 250.43C532.38 251.1 530.71 251.52 528.43 252.29C526.14 253.05 522.57 254.33 519.86 255C517.14 255.67 513.43 256.07 512.14 256.29" fill="none" stroke="#4d4644" stroke-width="1.5" stroke-linejoin="round" stroke-linecap="round"/>
<path d="M480.07 248C480.52 248 481.92 248.12 482.79 248C483.65 247.88 484.87 247.4 485.29 247.29" fill="none" stroke="#4d4644" stroke-width="0.8" stroke-linejoin="round" stroke-linecap="round"/>
<path d="M535.36 248C534.88 248 533.51 248.12 532.5 248C531.49 247.88 529.82 247.4 529.29 247.29" fill="none" stroke="#4d4644" stroke-width="0.8" stroke-linejoin="round" stroke-linecap="round"/>
<path d="M492.21 217.21Q495.11 212.39 499.29 216.57" fill="none" stroke="#4d4644" stroke-width="1.4" stroke-linejoin="round" stroke-linecap="round"/>
<path d="M515.36 216.57Q519.54 212.39 522.43 217.21" fill="none" stroke="#4d4644" stroke-width="1.4" stroke-linejoin="round" stroke-linecap="round"/>
<ellipse cx="496.1" cy="227.5" rx="1.9" ry="4" fill="#4a4340"/>
<ellipse cx="518.6" cy="227.5" rx="1.9" ry="4" fill="#4a4340"/>
<path d="M506.36 237.5C506.44 237.74 506.54 238.57 506.86 238.93C507.18 239.29 508.05 239.52 508.29 239.64" fill="none" stroke="#4d4644" stroke-width="1.4" stroke-linejoin="round" stroke-linecap="round"/>
<path d="M499 242.86Q507.64 250.29 515.43 242.86" fill="none" stroke="#4d4644" stroke-width="1.4" stroke-linejoin="round" stroke-linecap="round"/>
<path d="M498.14 240.36C497.85 240.71 496.57 241.79 496.36 242.5C496.14 243.21 496.77 244.29 496.86 244.64" fill="none" stroke="#4d4644" stroke-width="0.9" stroke-linejoin="round" stroke-linecap="round"/>
<path d="M516.29 240.14C516.55 240.48 517.5 241.43 517.86 242.14C518.21 242.86 518.33 244.05 518.43 244.43" fill="none" stroke="#4d4644" stroke-width="0.9" stroke-linejoin="round" stroke-linecap="round"/>
</g>
<g id="child">
<path d="M392.26 382.71C392.43 381.96 391.66 379.56 393.29 378.21C394.91 376.86 399.89 375.47 402.03 374.61C404.17 373.76 405.46 373.33 406.14 373.07C407.47 373.07 412.79 373.07 414.11 373.07C414.8 373.33 416.09 373.76 418.23 374.61C420.37 375.47 425.34 376.86 426.97 378.21C428.6 379.56 427.83 381.96 428 382.71Z" fill="#d2d1d2" stroke="#4d4644" stroke-width="1.1" stroke-linejoin="round" stroke-linecap="round"/>
<path d="M407.43 376.93C408.37 376.93 412.14 376.93 413.09 376.93C413.04 377.89 412.87 381.75 412.83 382.71C411.97 382.71 408.54 382.71 407.69 382.71Z" fill="#fff" stroke="none" stroke-width="1.1" stroke-linejoin="round" stroke-linecap="round"/>
<path d="M406.14 373.07C406.19 373.86 406.36 377.04 406.4 377.83C406.57 378.64 407.26 381.9 407.43 382.71" fill="none" stroke="#4d4644" stroke-width="0.9" stroke-linejoin="round" stroke-linecap="round"/>
<path d="M414.11 373.07C414.07 373.86 413.9 377.04 413.86 377.83C413.69 378.64 413 381.9 412.83 382.71" fill="none" stroke="#4d4644" stroke-width="0.9" stroke-linejoin="round" stroke-linecap="round"/>
<path d="M406.01 367.29C406.01 368.53 406.01 373.5 406.01 374.74C406.25 375.26 406.74 377.19 407.43 377.83C408.11 378.47 409.23 378.6 410.13 378.6C411.03 378.6 412.14 378.47 412.83 377.83C413.51 377.19 414.01 375.26 414.24 374.74C414.24 373.5 414.24 368.53 414.24 367.29Z" fill="#fdecd2" stroke="none" stroke-width="1.1" stroke-linejoin="round" stroke-linecap="round"/>
<path d="M406.01 369.86C406.01 370.67 406.01 373.93 406.01 374.74C406.25 375.26 406.74 377.19 407.43 377.83C408.11 378.47 409.23 378.6 410.13 378.6C411.03 378.6 412.14 378.47 412.83 377.83C413.51 377.19 414.01 375.26 414.24 374.74C414.24 373.93 414.24 370.67 414.24 369.86" fill="none" stroke="#4d4644" stroke-width="1.2" stroke-linejoin="round" stroke-linecap="round"/>
<path d="M422.47 303.83C423.61 304.54 426.97 305.76 429.29 308.07C431.6 310.39 434.43 314.18 436.36 317.71C438.29 321.25 439.83 325.43 440.86 329.29C441.89 333.14 442.25 338.38 442.53 340.86C442.81 343.33 442.59 342.52 442.53 344.14C442.46 345.76 442.46 348.54 442.14 350.57C441.82 352.61 441.63 354.43 440.6 356.36C439.57 358.29 437.39 360.58 435.97 362.14C434.56 363.71 434.19 364.41 432.11 365.74C430.04 367.07 426.2 369.06 423.5 370.11C420.8 371.16 417.18 371.72 415.91 372.04C414.93 369.32 411.86 355.71 410 355.71C408.14 355.71 405.61 369.32 404.73 372.04C403.46 371.72 399.84 371.16 397.14 370.11C394.44 369.06 390.61 367.07 388.53 365.74C386.45 364.41 386.09 363.71 384.67 362.14C383.26 360.58 381.09 358.29 380.04 356.36C378.99 354.43 378.76 352.61 378.37 350.57C377.99 348.54 377.81 345.76 377.73 344.14C377.64 342.52 377.51 343.55 377.86 340.86C378.2 338.17 378.71 332.07 379.79 328C380.86 323.93 382.25 320.03 384.29 316.43C386.32 312.83 389.21 308.93 392 306.4C394.79 303.87 398 302.33 401 301.26C404 300.19 407 300.04 410 299.97C413 299.91 416.92 300.23 419 300.87C421.08 301.51 421.89 303.34 422.47 303.83Z" fill="#c3846c" stroke="#4d4644" stroke-width="1.5" stroke-linejoin="round" stroke-linecap="round"/>
<ellipse cx="383.0" cy="345.0" rx="2.9" ry="6.6" fill="#fdecd2" stroke="#4d4644" stroke-width="1.1"/>
<ellipse cx="437.6" cy="345.0" rx="2.9" ry="6.6" fill="#fdecd2" stroke="#4d4644" stroke-width="1.1"/>
<path d="M384.29 343.43C384.29 341.29 382.79 334.86 384.29 330.57C385.79 326.29 389 320.71 393.29 317.71C397.57 314.71 404.43 312.57 410 312.57C415.57 312.57 422.32 314.71 426.71 317.71C431.11 320.71 434.75 326.29 436.36 330.57C437.96 334.86 436.36 341.29 436.36 343.43C436.31 343.98 436.31 345.1 436.1 346.71C435.89 348.33 435.78 350.91 435.07 353.14C434.36 355.37 433.79 357.84 431.86 360.09C429.93 362.34 425.99 365.3 423.5 366.64C421.01 367.98 419.15 367.79 416.94 368.12C414.74 368.45 412.49 368.64 410.26 368.64C408.03 368.64 405.76 368.45 403.57 368.12C401.39 367.79 399.61 367.98 397.14 366.64C394.68 365.3 390.71 362.34 388.79 360.09C386.86 357.84 386.28 355.37 385.57 353.14C384.86 350.91 384.76 348.33 384.54 346.71C384.33 345.1 384.33 343.98 384.29 343.43Z" fill="#fdecd2" stroke="#4d4644" stroke-width="1.35" stroke-linejoin="round" stroke-linecap="round"/>
<path d="M378.24 337C378.5 335.5 378.78 331.43 379.79 328C380.79 324.57 382.25 320.03 384.29 316.43C386.32 312.83 389.21 308.93 392 306.4C394.79 303.87 398 302.33 401 301.26C404 300.19 407 300.04 410 299.97C413 299.91 416.92 300.23 419 300.87C421.08 301.51 421.89 303.34 422.47 303.83C423.61 304.54 426.97 305.76 429.29 308.07C431.6 310.39 434.43 314.18 436.36 317.71C438.29 321.25 439.89 326.41 440.86 329.29C441.82 332.16 441.93 334 442.14 334.94C442.14 334.94 442.14 334.94 442.14 334.94C441.2 334.9 437.43 334.73 436.49 334.69C435.93 334.32 434.56 333.61 433.14 332.5C431.73 331.39 429.71 329.82 428 328C426.29 326.18 424.25 323.61 422.86 321.57C421.46 319.54 420.18 316.75 419.64 315.79C418.89 316.96 417.18 320.61 415.14 322.86C413.11 325.11 410.43 327.46 407.43 329.29C404.43 331.11 400.36 332.69 397.14 333.79C393.93 334.88 390.5 335.35 388.14 335.84C385.79 336.34 383.86 336.59 383 336.74C382.21 336.79 379.04 336.96 378.24 337C378.24 337 378.24 337 378.24 337Z" fill="#c3846c" stroke="none" stroke-width="1.1" stroke-linejoin="round" stroke-linecap="round"/>
<path d="M436.49 334.69C435.93 334.32 434.56 333.61 433.14 332.5C431.73 331.39 429.71 329.82 428 328C426.29 326.18 424.25 323.61 422.86 321.57C421.46 319.54 420.18 316.75 419.64 315.79C418.89 316.96 417.18 320.61 415.14 322.86C413.11 325.11 410.43 327.46 407.43 329.29C404.43 331.11 400.36 332.69 397.14 333.79C393.93 334.88 390.5 335.35 388.14 335.84C385.79 336.34 383.86 336.59 383 336.74" fill="none" stroke="#4d4644" stroke-width="1.25" stroke-linejoin="round" stroke-linecap="round"/>
<path d="M404.73 372.04C403.46 371.72 399.84 371.16 397.14 370.11C394.44 369.06 390.61 367.07 388.53 365.74C386.45 364.41 386.09 363.71 384.67 362.14C383.26 360.58 381.09 358.29 380.04 356.36C378.99 354.43 378.76 352.61 378.37 350.57C377.99 348.54 377.81 345.76 377.73 344.14C377.64 342.52 377.51 343.55 377.86 340.86C378.2 338.17 378.71 332.07 379.79 328C380.86 323.93 382.25 320.03 384.29 316.43C386.32 312.83 389.21 308.93 392 306.4C394.79 303.87 398 302.33 401 301.26C404 300.19 407 300.04 410 299.97C413 299.91 416.92 300.23 419 300.87C421.08 301.51 421.89 303.34 422.47 303.83C423.61 304.54 426.97 305.76 429.29 308.07C431.6 310.39 434.43 314.18 436.36 317.71C438.29 321.25 439.83 325.43 440.86 329.29C441.89 333.14 442.25 338.38 442.53 340.86C442.81 343.33 442.59 342.52 442.53 344.14C442.46 345.76 442.46 348.54 442.14 350.57C441.82 352.61 441.63 354.43 440.6 356.36C439.57 358.29 437.39 360.58 435.97 362.14C434.56 363.71 434.19 364.41 432.11 365.74C430.04 367.07 426.2 369.06 423.5 370.11C420.8 371.16 417.18 371.72 415.91 372.04" fill="none" stroke="#4d4644" stroke-width="1.5" stroke-linejoin="round" stroke-linecap="round"/>
<path d="M395.6 329.29Q398.62 324.91 401.9 328.77" fill="none" stroke="#4d4644" stroke-width="1.1" stroke-linejoin="round" stroke-linecap="round"/>
<path d="M418.36 329.29Q421.51 324.53 425.43 329.54" fill="none" stroke="#4d4644" stroke-width="1.1" stroke-linejoin="round" stroke-linecap="round"/>
<circle cx="384.3" cy="350.5" r="1" fill="#fff" stroke="#4d4644" stroke-width="0.6"/>
<circle cx="436.1" cy="350.5" r="1" fill="#fff" stroke="#4d4644" stroke-width="0.6"/>
<ellipse cx="398.8" cy="339.3" rx="1.9" ry="4.2" fill="#4a4340"/>
<ellipse cx="421.3" cy="339.3" rx="1.9" ry="4.2" fill="#4a4340"/>
<path d="M409.61 349.29C409.61 349.56 409.36 350.59 409.61 350.96C409.87 351.32 410.9 351.39 411.16 351.47" fill="none" stroke="#4d4644" stroke-width="1.4" stroke-linejoin="round" stroke-linecap="round"/>
<path d="M402.29 355.07Q410 362.01 417.71 355.07" fill="none" stroke="#4d4644" stroke-width="1.4" stroke-linejoin="round" stroke-linecap="round"/>
</g>
<g id="husband">
<path d="M588.36 382.71C588.57 382.07 587.86 380.1 589.64 378.86C591.42 377.61 596.82 376.11 599.03 375.26C601.24 374.4 602.24 373.97 602.89 373.71C604.39 373.71 610.39 373.71 611.89 373.71C612.53 373.97 613.56 374.4 615.74 375.26C617.93 376.11 623.24 377.61 625 378.86C626.76 380.1 626.07 382.07 626.29 382.71Z" fill="#8ca9ce" stroke="#4d4644" stroke-width="1.4" stroke-linejoin="round" stroke-linecap="round"/>
<path d="M602.89 373.71C604.39 373.71 610.39 373.71 611.89 373.71C611.71 375.21 611.03 381.21 610.86 382.71C609.7 382.71 605.07 382.71 603.91 382.71Z" fill="#fff" stroke="#4d4644" stroke-width="0.8" stroke-linejoin="round" stroke-linecap="round"/>
<path d="M605.71 377.83C606.27 377.83 608.5 377.83 609.06 377.83C608.97 378.21 608.63 379.76 608.54 380.14C608.67 380.57 609.19 382.29 609.31 382.71C608.67 382.71 606.1 382.71 605.46 382.71C605.59 382.29 606.1 380.57 606.23 380.14Z" fill="#f4e48e" stroke="#4d4644" stroke-width="0.8" stroke-linejoin="round" stroke-linecap="round"/>
<path d="M602.89 373.71C602.29 374.53 599.89 377.79 599.29 378.6C599.71 379.29 601.43 382.03 601.86 382.71" fill="none" stroke="#4d4644" stroke-width="0.9" stroke-linejoin="round" stroke-linecap="round"/>
<path d="M611.89 373.71C612.49 374.53 614.89 377.79 615.49 378.6C615.06 379.29 613.34 382.03 612.91 382.71" fill="none" stroke="#4d4644" stroke-width="0.9" stroke-linejoin="round" stroke-linecap="round"/>
<path d="M602.63 368.57C602.63 369.47 602.63 373.07 602.63 373.97C603.42 374.61 606.59 377.19 607.39 377.83C608.18 377.19 611.35 374.61 612.14 373.97C612.14 373.07 612.14 369.47 612.14 368.57Z" fill="#fdecd2" stroke="none" stroke-width="1.1" stroke-linejoin="round" stroke-linecap="round"/>
<path d="M602.89 373.71C603.64 374.4 606.64 377.14 607.39 377.83C608.14 377.14 611.14 374.4 611.89 373.71" fill="none" stroke="#4d4644" stroke-width="0.9" stroke-linejoin="round" stroke-linecap="round"/>
<path d="M602.63 369.6C602.63 370.33 602.63 373.24 602.63 373.97M612.14 369.6C612.14 370.33 612.14 373.24 612.14 373.97" fill="none" stroke="#4d4644" stroke-width="1.3" stroke-linejoin="round" stroke-linecap="round"/>
<ellipse cx="580.8" cy="345.4" rx="2.9" ry="5.8" fill="#fdecd2" stroke="#4d4644" stroke-width="1.1"/>
<ellipse cx="634.6" cy="345.4" rx="2.9" ry="5.8" fill="#fdecd2" stroke="#4d4644" stroke-width="1.1"/>
<path d="M582.31 340.86C582.36 339.14 581.24 334.64 582.57 330.57C583.9 326.5 586.11 319.64 590.29 316.43C594.46 313.21 601.86 311.29 607.64 311.29C613.43 311.29 620.78 313.21 625 316.43C629.22 319.64 631.58 326.5 632.97 330.57C634.36 334.64 633.29 339.14 633.36 340.86C633.27 342.15 633.51 345.91 632.84 348.64C632.18 351.38 631.43 354.39 629.37 357.26C627.31 360.13 623.07 363.9 620.5 365.87C617.93 367.84 616.13 368.34 613.94 369.09C611.76 369.84 609.57 370.37 607.39 370.37C605.2 370.37 603.04 369.84 600.83 369.09C598.62 368.34 596.69 367.84 594.14 365.87C591.59 363.9 587.52 360.13 585.53 357.26C583.54 354.39 582.72 351.38 582.19 348.64C581.65 345.91 582.29 342.15 582.31 340.86Z" fill="#fdecd2" stroke="#4d4644" stroke-width="1.35" stroke-linejoin="round" stroke-linecap="round"/>
<path d="M580 341.11C579.89 339.36 579.14 334.47 579.36 330.57C579.57 326.67 580.11 321.53 581.29 317.71C582.46 313.9 584.5 309.91 586.43 307.69C588.36 305.46 591.79 304.9 592.86 304.34C593.33 303.7 593.76 301.32 595.69 300.49C597.61 299.65 601.04 299.14 604.43 299.33C607.81 299.52 612.36 300.4 616 301.64C619.64 302.89 623.54 304.92 626.29 306.79C629.03 308.65 631.04 310.36 632.46 312.83C633.87 315.29 634.24 318.61 634.77 321.57C635.31 324.53 635.56 327.31 635.67 330.57C635.78 333.83 635.46 339.36 635.41 341.11C635.05 341.07 633.59 340.9 633.23 340.86C633.1 339.57 632.86 335.67 632.46 333.14C632.05 330.61 631.56 327.79 630.79 325.69C630.01 323.59 628.32 321.4 627.83 320.54C627.36 321.49 625.47 325.26 625 326.2C624.19 325.04 620.93 320.41 620.11 319.26C619.64 319.99 617.76 322.9 617.29 323.63C616.15 322.77 611.61 319.34 610.47 318.49C610 319.24 608.11 322.24 607.64 322.99C606.79 322 604.32 318.38 602.5 317.07C600.68 315.76 598.64 315.12 596.71 315.14C594.79 315.16 592.86 315.7 590.93 317.2C589 318.7 586.43 321.49 585.14 324.14C583.86 326.8 583.66 330.36 583.21 333.14C582.76 335.93 582.57 339.57 582.44 340.86C582.04 340.9 580.41 341.07 580 341.11Z" fill="#4f4b4b" stroke="#4d4644" stroke-width="1.0" stroke-linejoin="round" stroke-linecap="round"/>
<path d="M593.11 330.31Q596.39 327.36 599.93 329.54" fill="none" stroke="#8c817a" stroke-width="1.1" stroke-linejoin="round" stroke-linecap="round"/>
<path d="M615.36 329.54Q618.64 327.36 622.17 330.31" fill="none" stroke="#8c817a" stroke-width="1.1" stroke-linejoin="round" stroke-linecap="round"/>
<ellipse cx="596.7" cy="338.9" rx="1.9" ry="4.2" fill="#4a4340"/>
<ellipse cx="618.3" cy="338.9" rx="1.9" ry="4.2" fill="#4a4340"/>
<path d="M606.61 351.86C606.72 352.05 607.02 352.74 607.26 353.01C607.49 353.29 607.9 353.44 608.03 353.53" fill="none" stroke="#4d4644" stroke-width="1.3" stroke-linejoin="round" stroke-linecap="round"/>
<path d="M601.09 359.44Q607.51 364.84 613.94 359.44" fill="none" stroke="#4d4644" stroke-width="1.4" stroke-linejoin="round" stroke-linecap="round"/>
</g>
<g id="grandchild">
<path d="M496.63 485.4C496.97 484.54 497.06 481.5 498.69 480.26C500.31 479.01 505.11 478.33 506.4 477.94C508.16 477.94 515.19 477.94 516.94 477.94C518.23 478.33 523.03 479.01 524.66 480.26C526.29 481.5 526.37 484.54 526.71 485.4Z" fill="#fbe4a2" stroke="#4d4644" stroke-width="1.1" stroke-linejoin="round" stroke-linecap="round"/>
<path d="M505.89 474.86C505.97 475.46 506.31 477.86 506.4 478.46C506.89 478.93 508.48 480.73 509.36 481.29C510.24 481.84 510.9 481.8 511.67 481.8C512.44 481.8 513.11 481.84 513.99 481.29C514.86 480.73 516.45 478.93 516.94 478.46C517.03 477.86 517.37 475.46 517.46 474.86Z" fill="#fdecd2" stroke="none" stroke-width="1.1" stroke-linejoin="round" stroke-linecap="round"/>
<path d="M506.4 478.46C506.89 478.93 508.48 480.73 509.36 481.29C510.24 481.84 510.9 481.8 511.67 481.8C512.44 481.8 513.11 481.84 513.99 481.29C514.86 480.73 516.45 478.93 516.94 478.46" fill="none" stroke="#4d4644" stroke-width="1.0" stroke-linejoin="round" stroke-linecap="round"/>
<path d="M522.34 475.37C520.54 474 514.99 467.14 511.54 467.14C508.09 467.14 503.29 474 501.64 475.37C501.24 475.26 501.04 475.22 499.2 474.73C497.36 474.24 492.88 473.51 490.59 472.41C488.29 471.32 486.73 469.89 485.44 468.17C484.16 466.46 483.41 464.44 482.87 462.13C482.34 459.81 482.21 455.88 482.23 454.29C482.25 452.69 482.49 454.68 483 452.57C483.51 450.46 484.46 444.88 485.31 441.64C486.17 438.41 487.67 434.57 488.14 433.16C487.44 433.52 485.55 434.83 483.9 435.34C482.25 435.86 479.83 436.44 478.24 436.24C476.66 436.05 475.03 434.53 474.39 434.19C474.9 433.71 476.4 432.75 477.47 431.36C478.54 429.96 479.31 427.39 480.81 425.83C482.31 424.26 484.93 423 486.47 421.97C488.01 420.94 489.47 420.04 490.07 419.66C491.25 419.57 494.89 419.49 497.14 419.14C499.39 418.8 500.79 418.07 503.57 417.6C506.36 417.13 510.86 416.27 513.86 416.31C516.86 416.36 519 416.74 521.57 417.86C524.14 418.97 527.04 420.64 529.29 423C531.54 425.36 533.57 428.57 535.07 432C536.57 435.43 537.43 439.5 538.29 443.57C539.14 447.64 539.81 454.64 540.21 456.43C540.62 458.21 540.6 453.34 540.73 454.29C540.86 455.24 541.35 459.81 540.99 462.13C540.62 464.44 539.81 466.46 538.54 468.17C537.28 469.89 535.67 471.32 533.4 472.41C531.13 473.51 526.76 474.24 524.91 474.73C523.07 475.22 522.77 475.26 522.34 475.37Z" fill="#9a8a6d" stroke="#4d4644" stroke-width="1.5" stroke-linejoin="round" stroke-linecap="round"/>
<ellipse cx="487.6" cy="457.5" rx="2.1" ry="4.2" fill="#fdecd2" stroke="#4d4644" stroke-width="1.1"/>
<ellipse cx="536.1" cy="457.5" rx="2.1" ry="4.2" fill="#fdecd2" stroke="#4d4644" stroke-width="1.1"/>
<path d="M488.4 455.79C488.53 454.18 487.71 449.89 489.17 446.14C490.63 442.39 493.35 436.29 497.14 433.29C500.94 430.29 507 428.14 511.93 428.14C516.86 428.14 522.84 430.29 526.71 433.29C530.59 436.29 533.79 442.39 535.2 446.14C536.61 449.89 535.2 454.18 535.2 455.79C535.2 456.14 535.63 456.12 535.2 457.89C534.77 459.65 534.49 463.74 532.63 466.37C530.76 469.01 526.46 472.07 524.01 473.7C521.57 475.33 520.05 475.56 517.97 476.14C515.89 476.72 513.69 477.17 511.54 477.17C509.4 477.17 507.17 476.72 505.11 476.14C503.06 475.56 501.62 475.33 499.2 473.7C496.78 472.07 492.45 469.01 490.59 466.37C488.72 463.74 488.38 459.65 488.01 457.89C487.65 456.12 488.34 456.14 488.4 455.79Z" fill="#fdecd2" stroke="#4d4644" stroke-width="1.35" stroke-linejoin="round" stroke-linecap="round"/>
<path d="M483 452.83C483.39 450.96 484.54 444.96 485.31 441.64C486.09 438.32 486.84 435.79 487.63 432.9C488.42 430.01 488.49 426.58 490.07 424.29C491.66 421.99 494.89 420.26 497.14 419.14C499.39 418.03 500.79 418.07 503.57 417.6C506.36 417.13 510.86 416.27 513.86 416.31C516.86 416.36 519 416.74 521.57 417.86C524.14 418.97 527.04 420.64 529.29 423C531.54 425.36 533.57 428.57 535.07 432C536.57 435.43 537.54 440.1 538.29 443.57C539.04 447.04 539.36 451.29 539.57 452.83C539.57 452.83 539.57 452.83 539.57 452.83C538.93 452.83 536.36 452.83 535.71 452.83C535.74 452.36 535.82 450.47 535.84 450C535.5 449.14 534.88 446.61 533.79 444.86C532.69 443.1 530.85 441.28 529.29 439.46C527.72 437.64 525.66 435.49 524.4 433.93C523.14 432.36 522.15 430.71 521.7 430.07C521.25 430.74 520.31 432.75 519 434.06C517.69 435.36 516 436.84 513.86 437.91C511.71 438.99 508.93 439.84 506.14 440.49C503.36 441.13 499.65 441.45 497.14 441.77C494.64 442.09 492.11 442.31 491.1 442.41C490.82 443.36 489.77 446.34 489.43 448.07C489.09 449.81 489.11 452.04 489.04 452.83C488.04 452.83 484.01 452.83 483 452.83C483 452.83 483 452.83 483 452.83Z" fill="#9a8a6d" stroke="none" stroke-width="1.1" stroke-linejoin="round" stroke-linecap="round"/>
<path d="M535.71 452.83C535.74 452.36 535.82 450.47 535.84 450C535.5 449.14 534.88 446.61 533.79 444.86C532.69 443.1 530.85 441.28 529.29 439.46C527.72 437.64 525.66 435.49 524.4 433.93C523.14 432.36 522.15 430.71 521.7 430.07C521.25 430.74 520.31 432.75 519 434.06C517.69 435.36 516 436.84 513.86 437.91C511.71 438.99 508.93 439.84 506.14 440.49C503.36 441.13 499.65 441.45 497.14 441.77C494.64 442.09 492.11 442.31 491.1 442.41C490.82 443.36 489.77 446.34 489.43 448.07C489.09 449.81 489.11 452.04 489.04 452.83" fill="none" stroke="#4d4644" stroke-width="1.25" stroke-linejoin="round" stroke-linecap="round"/>
<path d="M501.64 475.37C501.24 475.26 501.04 475.22 499.2 474.73C497.36 474.24 492.88 473.51 490.59 472.41C488.29 471.32 486.73 469.89 485.44 468.17C484.16 466.46 483.41 464.44 482.87 462.13C482.34 459.81 482.21 455.88 482.23 454.29C482.25 452.69 482.49 454.68 483 452.57C483.51 450.46 484.46 444.88 485.31 441.64C486.17 438.41 487.67 434.57 488.14 433.16C487.44 433.52 485.55 434.83 483.9 435.34C482.25 435.86 479.83 436.44 478.24 436.24C476.66 436.05 475.03 434.53 474.39 434.19C474.9 433.71 476.4 432.75 477.47 431.36C478.54 429.96 479.31 427.39 480.81 425.83C482.31 424.26 484.93 423 486.47 421.97C488.01 420.94 489.47 420.04 490.07 419.66C491.25 419.57 494.89 419.49 497.14 419.14C499.39 418.8 500.79 418.07 503.57 417.6C506.36 417.13 510.86 416.27 513.86 416.31C516.86 416.36 519 416.74 521.57 417.86C524.14 418.97 527.04 420.64 529.29 423C531.54 425.36 533.57 428.57 535.07 432C536.57 435.43 537.43 439.5 538.29 443.57C539.14 447.64 539.81 454.64 540.21 456.43C540.62 458.21 540.6 453.34 540.73 454.29C540.86 455.24 541.35 459.81 540.99 462.13C540.62 464.44 539.81 466.46 538.54 468.17C537.28 469.89 535.67 471.32 533.4 472.41C531.13 473.51 526.76 474.24 524.91 474.73C523.07 475.22 522.77 475.26 522.34 475.37" fill="none" stroke="#4d4644" stroke-width="1.5" stroke-linejoin="round" stroke-linecap="round"/>
<circle cx="493.5" cy="420.7" r="3.2" fill="#f1838b" stroke="#4d4644" stroke-width="1.1"/>
<circle cx="489.2" cy="426.2" r="3.2" fill="#f1838b" stroke="#4d4644" stroke-width="1.1"/>
<path d="M498.17 443.57Q501.71 440.49 505.5 443.06" fill="none" stroke="#4d4644" stroke-width="1.1" stroke-linejoin="round" stroke-linecap="round"/>
<path d="M518.74 443.31Q521.76 440.36 524.53 443.57" fill="none" stroke="#4d4644" stroke-width="1.1" stroke-linejoin="round" stroke-linecap="round"/>
<ellipse cx="501.6" cy="453.9" rx="1.9" ry="4.4" fill="#4a4340"/>
<ellipse cx="521.6" cy="453.9" rx="1.9" ry="4.4" fill="#4a4340"/>
<path d="M510.77 460.33C510.81 460.52 510.81 461.19 511.03 461.49C511.24 461.79 511.89 462.02 512.06 462.13" fill="none" stroke="#4d4644" stroke-width="1.4" stroke-linejoin="round" stroke-linecap="round"/>
<path d="M506.4 466.24Q511.54 472.16 516.69 466.24" fill="none" stroke="#4d4644" stroke-width="1.4" stroke-linejoin="round" stroke-linecap="round"/>
</g>
<!-- pills -->
<g id="pills">
  <rect x="44" y="99.3" width="100" height="33.6" rx="16.8" fill="#666"/>
  <text class="lbl" x="94" y="124.0">父親</text>
  <rect x="254.4" y="99.3" width="100" height="33.6" rx="16.8" fill="#ff8c4a"/>
  <text class="lbl" x="304.4" y="124.0">母親</text>
  <rect x="43" y="265" width="100" height="33.6" rx="16.8" fill="#0a8f4b"/>
  <text class="lbl" x="93" y="289.7">弟</text>
  <rect x="254.4" y="268" width="100" height="33.6" rx="16.8" fill="#2648b0"/>
  <text class="lbl" x="303.7" y="292.7">被相続人</text>
  <rect x="457" y="268" width="100" height="33.6" rx="16.8" fill="#ff5a5a"/>
  <text class="lbl" x="507" y="292.7">配偶者</text>
  <rect x="360" y="381.4" width="100" height="33.6" rx="16.8" fill="#ff5a5a"/>
  <text class="lbl" x="410" y="406.1">子ども</text>
  <rect x="557" y="381.4" width="100" height="33.6" rx="16.8" fill="#666"/>
  <text class="lbl" x="607" y="406.1">子の夫</text>
  <rect x="460" y="483.5" width="100" height="33.6" rx="16.8" fill="#666"/>
  <text class="lbl" x="510" y="508.2">孫</text>
</g>
</svg>
</body>
</html>
